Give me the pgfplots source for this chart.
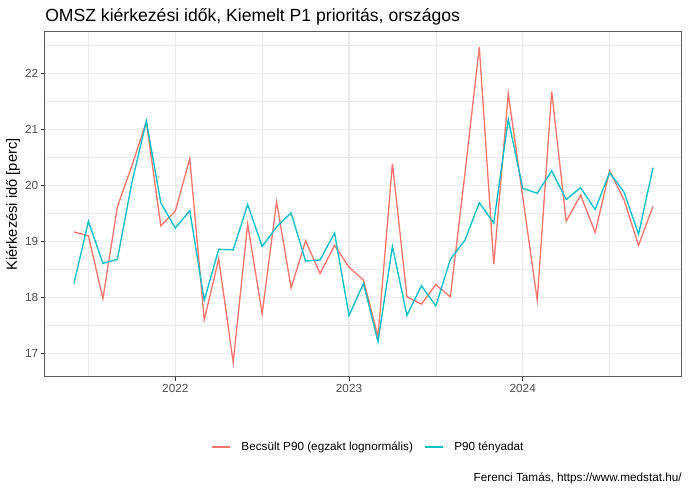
\documentclass[border=0pt]{standalone}
\usepackage{pgfplots}
\pgfplotsset{compat=1.18}
\usepackage{fontspec}
\setmainfont{Liberation Sans}
\definecolor{grey92}{HTML}{EBEBEB}
\definecolor{grey20}{HTML}{333333}
\definecolor{grey30}{HTML}{4D4D4D}
\definecolor{cRed}{HTML}{F8766D}
\definecolor{cCyan}{HTML}{00BFC4}
\begin{document}
\begin{tikzpicture}
\path[use as bounding box] (-33.75pt,-86.25pt) rectangle (483.75pt,282.75pt);
\begin{axis}[
  at={(0,0)}, anchor=south west,
  scale only axis, width=477.75pt, height=258.75pt,
  xmin=-9, xmax=35, ymin=16.58, ymax=22.74,
  xtick={0,12,24}, xticklabels={2022,2023,2024},
  minor xtick={-6,6,18,30},
  ytick={17,18,19,20,21,22},
  minor ytick={17.5,18.5,19.5,20.5,21.5,22.5},
  grid=both,
  major grid style={color=grey92, line width=1.07pt},
  minor grid style={color=grey92, line width=0.53pt},
  axis line style={color=grey20!80, line width=0.75pt},
  tick style={color=grey20, line width=0.75pt},
  tick align=outside, tick pos=left,
  major tick length=2.75pt, minor tick length=0pt,
  /pgf/number format/assume math mode=true,
  ticklabel style={font=\fontsize{8.8}{10}\selectfont, text=grey30},
  xticklabel style={inner sep=0pt, yshift=-2.2pt},
  yticklabel style={inner sep=0pt, xshift=-2.2pt},
  ylabel={Kiérkezési idő [perc]},
  every axis y label/.style={at={(axis description cs:-0.0502,0.5)}, rotate=90, anchor=center, font=\fontsize{11}{13}\selectfont},
  legend columns=2,
  legend style={at={(axis description cs:0.506,-0.2029)}, anchor=center, draw=none, fill=none,
    font=\fontsize{8.8}{10}\selectfont, /tikz/column sep=8.25pt, nodes={inner sep=0pt}},
  legend image code/.code={\draw[#1] (0pt,0pt) -- (13.5pt,0pt);},
]
\addplot[cRed, line width=1pt] table {
x y
-7 19.17
-6 19.10
-5 17.98
-4 19.62
-3 20.35
-2 21.14
-1 19.28
0 19.54
1 20.48
2 17.60
3 18.69
4 16.84
5 19.31
6 17.71
7 19.71
8 18.17
9 19.01
10 18.43
11 18.93
12 18.54
13 18.31
14 17.30
15 20.39
16 18.01
17 17.88
18 18.23
19 18.01
20 20.20
21 22.47
22 18.59
23 21.64
24 19.80
25 17.95
26 21.68
27 19.36
28 19.83
29 19.16
30 20.26
31 19.74
32 18.93
33 19.63
};
\addlegendentry{Becsült P90 (egzakt lognormális)}
\addplot[cCyan, line width=1pt] table {
x y
-7 18.25
-6 19.36
-5 18.61
-4 18.68
-3 20.05
-2 21.15
-1 19.69
0 19.24
1 19.55
2 17.95
3 18.86
4 18.85
5 19.66
6 18.91
7 19.26
8 19.51
9 18.65
10 18.67
11 19.15
12 17.68
13 18.25
14 17.21
15 18.91
16 17.68
17 18.21
18 17.85
19 18.68
20 19.02
21 19.69
22 19.33
23 21.18
24 19.95
25 19.86
26 20.26
27 19.75
28 19.96
29 19.57
30 20.23
31 19.88
32 19.13
33 20.32
};
\addlegendentry{P90 tényadat}
\end{axis}
\node[anchor=base west, inner sep=0pt, font=\fontsize{13.2}{15}\selectfont] at (0pt,266.5pt) {OMSZ kiérkezési idők, Kiemelt P1 prioritás, országos};
\node[anchor=base east, inner sep=0pt, font=\fontsize{8.8}{10}\selectfont] at (477.75pt,-78.75pt) {Ferenci Tamás, https://www.medstat.hu/};
\end{tikzpicture}
\end{document}
